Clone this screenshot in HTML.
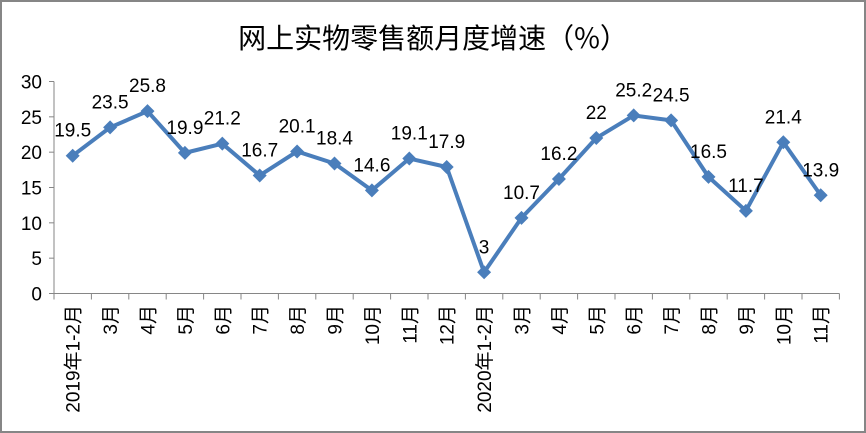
<!DOCTYPE html>
<html><head><meta charset="utf-8"><style>
html,body{margin:0;padding:0;background:#fff}
svg{display:block}
</style></head><body>
<svg width="866" height="433" viewBox="0 0 866 433" xmlns="http://www.w3.org/2000/svg" font-family="Liberation Sans, 'Noto Sans CJK SC', sans-serif">
<rect x="1" y="1" width="864" height="431" fill="#fff" stroke="#868686" stroke-width="2"/>
<text x="433" y="48" text-anchor="middle" font-size="28" font-family="'Noto Sans CJK SC', sans-serif" fill="#000">网上实物零售额月度增速（%）</text>
</svg>
<script>
var vals=[19.5,23.5,25.8,19.9,21.2,16.7,20.1,18.4,14.6,19.1,17.9,3,10.7,16.2,22,25.2,24.5,16.5,11.7,21.4,13.9];
var cats=["2019年1-2月","3月","4月","5月","6月","7月","8月","9月","10月","11月","12月","2020年1-2月","3月","4月","5月","6月","7月","8月","9月","10月","11月"];
var ns="http://www.w3.org/2000/svg",svg=document.querySelector("svg");
function el(t,a,txt){var e=document.createElementNS(ns,t);for(var k in a)e.setAttribute(k,a[k]);if(txt!=null)e.textContent=txt;svg.appendChild(e);return e;}
var x0=54,w=37.4,y0=293.5,k=212/30;
function X(i){return x0+w*(i+0.5)}function Y(v){return y0-v*k}
el("line",{x1:x0,y1:Y(30),x2:x0,y2:y0,stroke:"#868686"});
el("line",{x1:x0,y1:y0,x2:x0+21*w,y2:y0,stroke:"#868686"});
for(var v=0;v<=30;v+=5){el("line",{x1:x0-5,y1:Y(v),x2:x0,y2:Y(v),stroke:"#868686"});el("text",{x:x0-12,y:Y(v)+7,"text-anchor":"end","font-size":"19",fill:"#000"},v);}
for(var i=0;i<=21;i++)el("line",{x1:x0+w*i,y1:y0,x2:x0+w*i,y2:y0+6,stroke:"#868686"});
for(var i=0;i<21;i++){el("text",{transform:"translate("+(X(i)+7)+",305) rotate(-90)","text-anchor":"end","font-size":"19",fill:"#000"},cats[i]);}
var pts=vals.map(function(v,i){return X(i)+","+Y(v)}).join(" ");
el("polyline",{points:pts,fill:"none",stroke:"#4a7ebb","stroke-width":"4","stroke-linejoin":"round"});
vals.forEach(function(v,i){var x=X(i),y=Y(v),s=7;
el("polygon",{points:(x)+","+(y-s)+" "+(x+s)+","+y+" "+x+","+(y+s)+" "+(x-s)+","+y,fill:"#4a7ebb"});
el("text",{x:x,y:y-19,"text-anchor":"middle","font-size":"19",fill:"#000"},v);});
</script>
</body></html>
